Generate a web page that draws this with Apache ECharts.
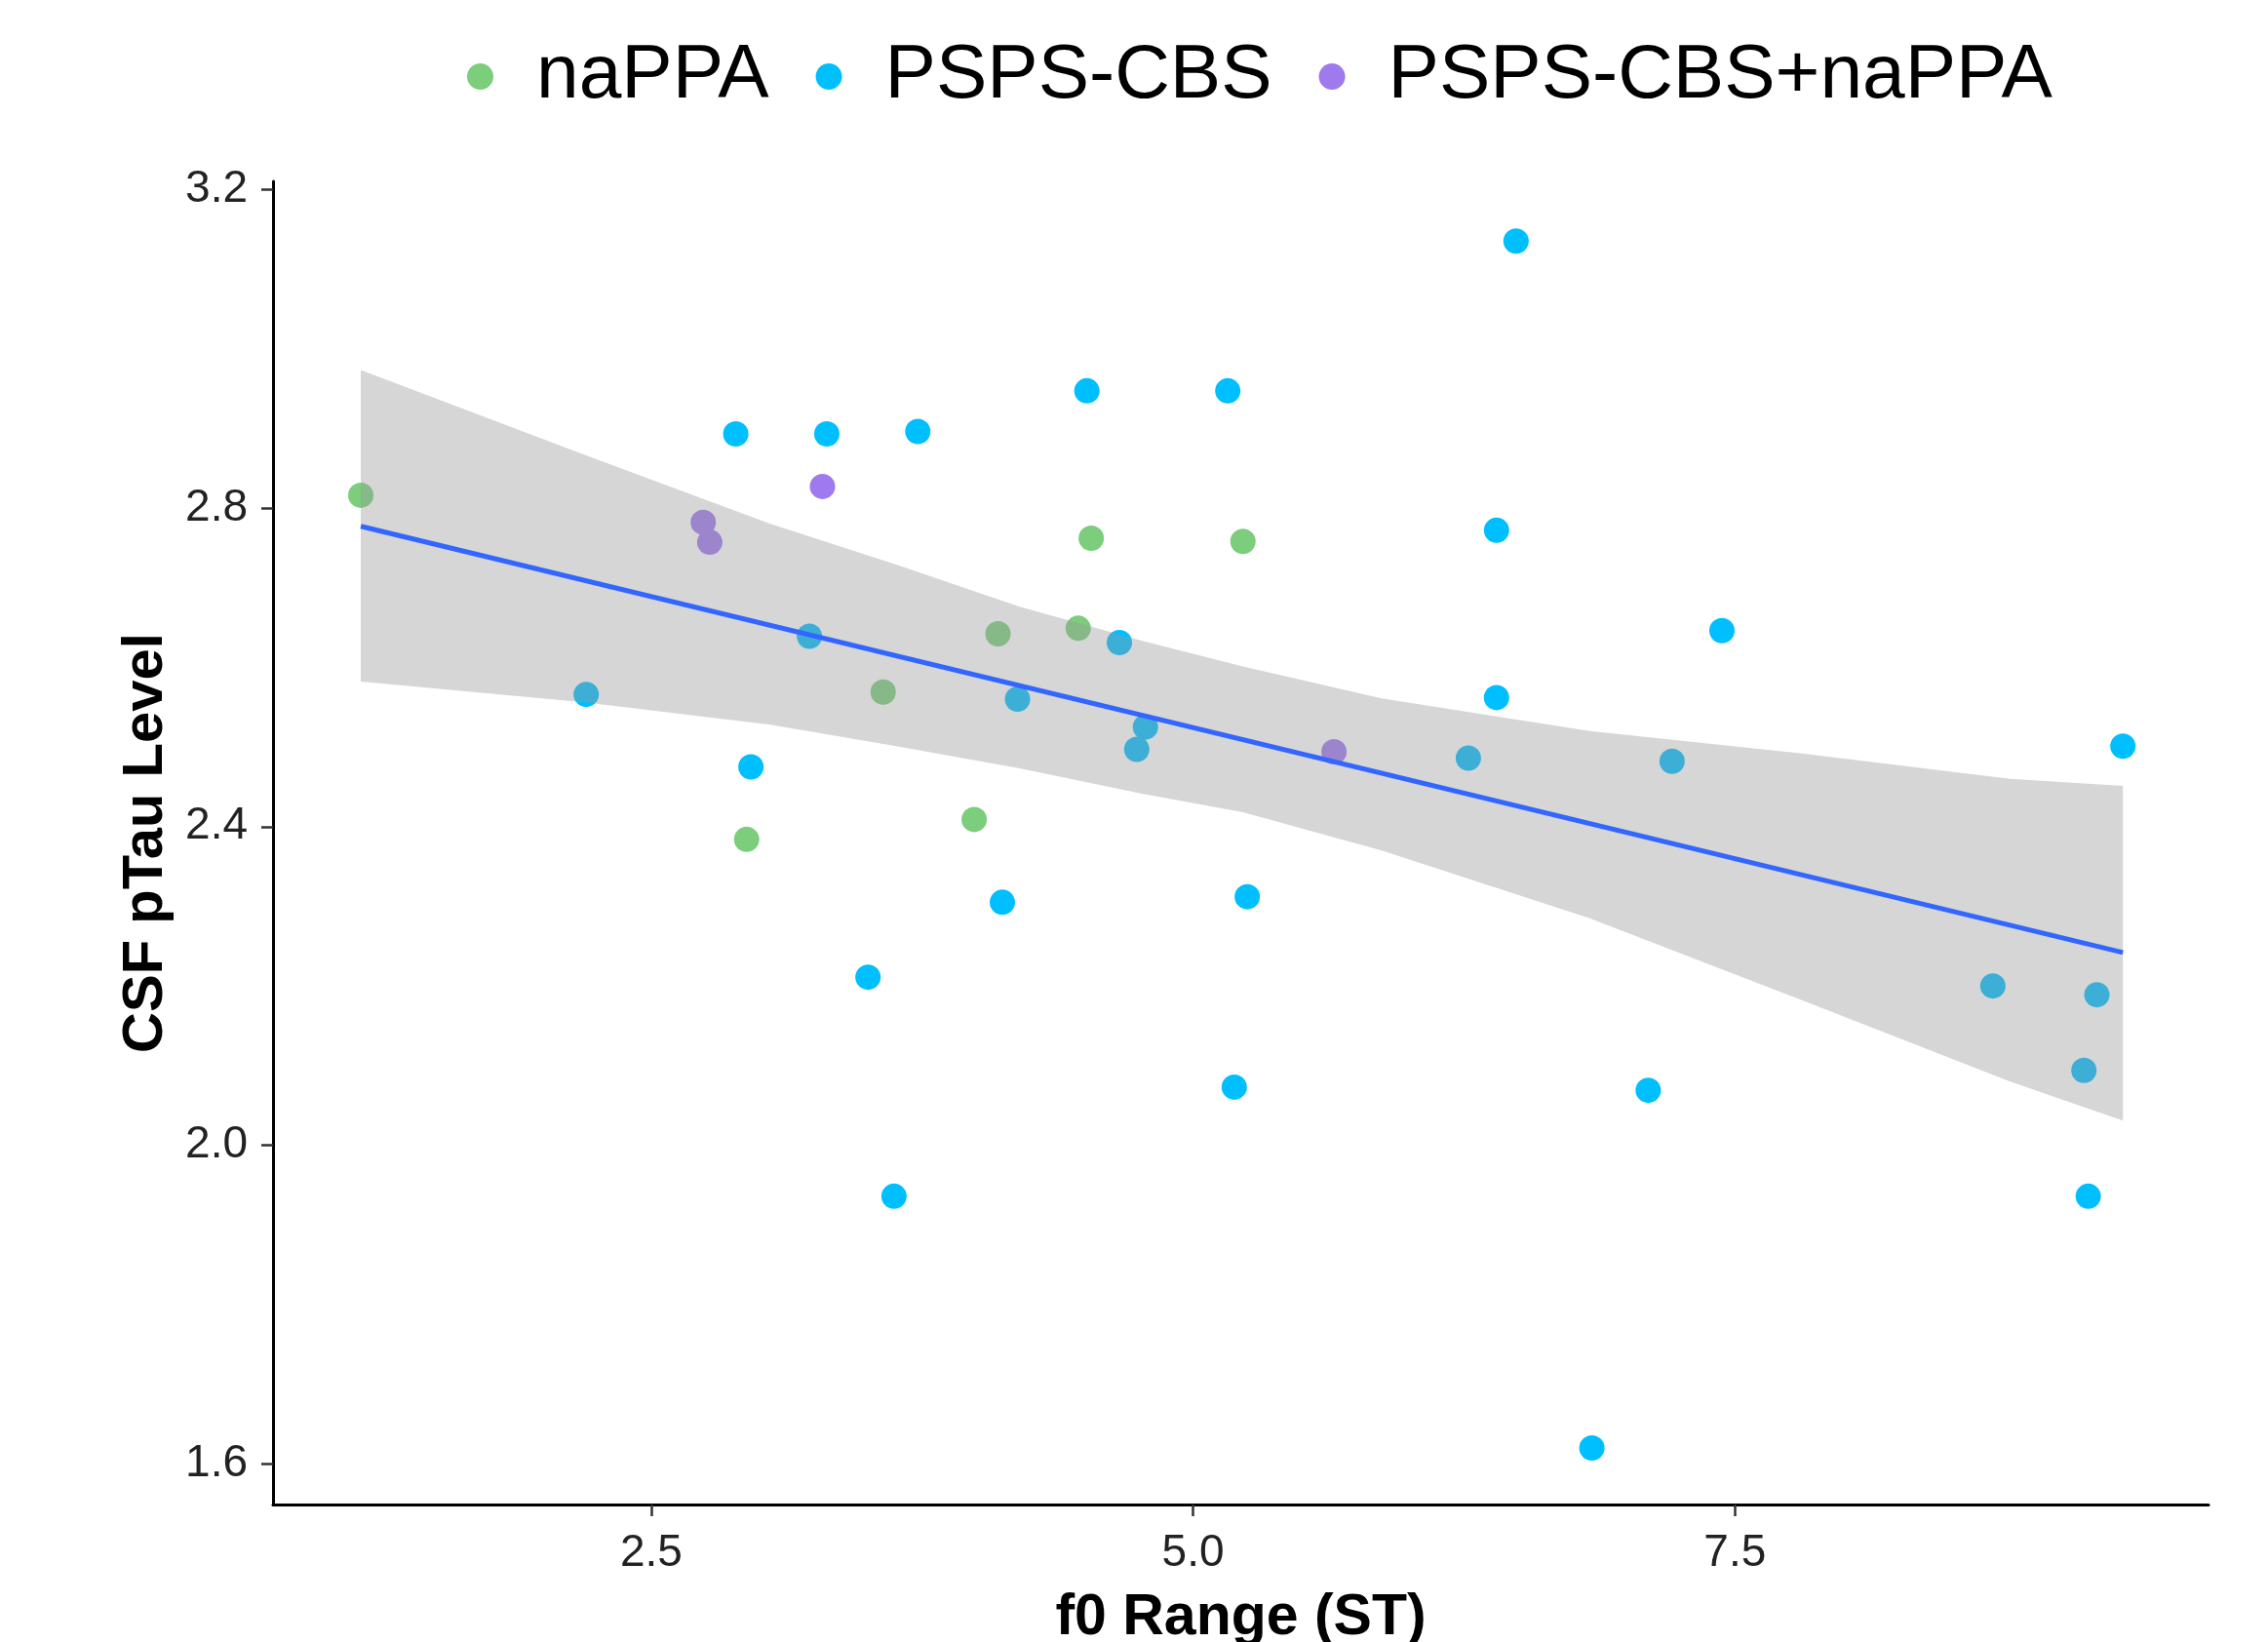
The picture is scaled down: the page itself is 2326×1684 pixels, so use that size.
<!DOCTYPE html>
<html>
<head>
<meta charset="utf-8">
<title>CSF pTau Level vs f0 Range</title>
<script src="https://cdn.jsdelivr.net/npm/echarts@6.0.0/dist/echarts.min.js"></script>
<style>
  html, body { margin: 0; padding: 0; background: #fff; }
  #chart { width: 2326px; height: 1684px; }
</style>
</head>
<body>
<div id="chart"></div>
<script>
// groups and colours
const groupNames = ['naPPA', 'PSPS-CBS', 'PSPS-CBS+naPPA']
const groupColors = ['#7CCD7C', '#00BFFF', '#9F79EE']

// naPPA points (f0 range, pTau)
const naPPAX = [1.16, 2.94, 3.57, 3.99, 4.10, 4.47, 4.53, 5.23]
const naPPAY = [2.816, 2.384, 2.569, 2.409, 2.642, 2.649, 2.762, 2.758]

// PSPS-CBS points
const pspsX = [2.20, 2.89, 2.96, 3.23, 3.31, 3.50, 3.62, 3.73, 4.12, 4.19,
  4.51, 4.66, 4.74, 4.78, 5.16, 5.19, 5.25, 6.27, 6.40, 6.40,
  6.49, 6.84, 7.10, 7.21, 7.44, 8.69, 9.11, 9.13, 9.17, 9.29]
const pspsY = [2.566, 2.893, 2.475, 2.639, 2.893, 2.211, 1.936, 2.896, 2.305, 2.560,
  2.947, 2.631, 2.497, 2.525, 2.947, 2.073, 2.312, 2.486, 2.772, 2.562,
  3.135, 1.620, 2.069, 2.482, 2.646, 2.200, 2.094, 1.936, 2.189, 2.501]

// PSPS-CBS+naPPA points
const bothX = [2.74, 2.77, 3.29, 5.65]
const bothY = [2.782, 2.757, 2.827, 2.494]

// linear fit (ends) and its confidence band
const fitX = [1.16, 9.29]
const fitY = [2.777, 2.242]
const bandX = [1.16, 2.19, 3.05, 3.63, 4.20, 4.77, 5.23, 5.87, 6.83, 7.80, 8.77, 9.29]
const bandUpper = [2.973, 2.867, 2.780, 2.729, 2.676, 2.633, 2.601, 2.561, 2.520, 2.492, 2.460, 2.451]
const bandLower = [2.582, 2.556, 2.528, 2.501, 2.473, 2.441, 2.418, 2.370, 2.285, 2.183, 2.080, 2.031]

// ticks
const xTicks = [2.5, 5.0, 7.5]
const yTicks = [1.6, 2.0, 2.4, 2.8, 3.2]

const fontFam = '"Liberation Sans", Arial, sans-serif'

function zip (xs, ys) {
  return xs.map((x, i) => [x, ys[i]])
}

let myChart = echarts.init(document.getElementById('chart'))

const groupData = [zip(naPPAX, naPPAY), zip(pspsX, pspsY), zip(bothX, bothY)]

const scatterSeries = groupNames.map((name, i) => ({
  name: name,
  type: 'scatter',
  symbol: 'circle',
  symbolSize: 26,
  z: 2,
  itemStyle: { color: groupColors[i], opacity: 1 },
  emphasis: { disabled: true },
  data: groupData[i]
}))

myChart.setOption({
  animation: false,
  backgroundColor: '#fff',
  legend: {
    data: groupNames.map((n) => ({ name: n, icon: 'circle' })),
    left: 474,
    top: 34,
    itemWidth: 27,
    itemHeight: 27,
    itemGap: 48,
    selectedMode: false,
    textStyle: {
      fontSize: 78.5,
      fontFamily: fontFam,
      color: '#000',
      // extra top padding drops the words a little below the dots, as in the original
      padding: [8, 0, 0, 39]
    }
  },
  grid: {
    left: 280,
    right: 61,
    top: 186,
    bottom: 141,
    containLabel: false,
    // keep the plot box fixed; the x title is allowed to run off the bottom edge
    outerBoundsMode: 'none'
  },
  xAxis: {
    type: 'value',
    min: 0.755,
    max: 9.685,
    name: 'f0 Range (ST)',
    nameLocation: 'middle',
    nameGap: 87,
    nameTextStyle: { fontSize: 59, fontWeight: 'bold', color: '#000', fontFamily: fontFam },
    splitLine: { show: false },
    axisLine: { onZero: false, lineStyle: { color: '#000', width: 3 } },
    axisTick: { customValues: xTicks, length: 12, lineStyle: { color: '#333', width: 2.5 } },
    axisLabel: {
      customValues: xTicks,
      formatter: (v) => v.toFixed(1),
      fontSize: 46,
      color: '#222',
      fontFamily: fontFam,
      margin: 27
    }
  },
  yAxis: {
    type: 'value',
    min: 1.549,
    max: 3.21,
    name: 'CSF pTau Level',
    nameLocation: 'middle',
    nameGap: 100,
    nameTextStyle: { fontSize: 58, fontWeight: 'bold', color: '#000', fontFamily: fontFam },
    splitLine: { show: false },
    axisLine: { show: true, onZero: false, lineStyle: { color: '#000', width: 3 } },
    axisTick: { show: true, customValues: yTicks, length: 12, lineStyle: { color: '#333', width: 2.5 } },
    axisLabel: {
      customValues: yTicks,
      formatter: (v) => v.toFixed(1),
      fontSize: 46,
      color: '#222',
      fontFamily: fontFam,
      margin: 26
    }
  },
  series: scatterSeries.concat([
    {
      // confidence band, drawn over the points like the original
      name: 'band',
      type: 'custom',
      z: 3,
      silent: true,
      data: bandX.map((x, i) => [x, bandUpper[i], bandLower[i]]),
      encode: { x: 0, y: [1, 2] },
      renderItem: (params, api) => {
        if (params.dataIndex !== 0) return null
        let pts = []
        for (let i = 0; i < bandX.length; i++) pts.push(api.coord([bandX[i], bandUpper[i]]))
        for (let i = bandX.length - 1; i >= 0; i--) pts.push(api.coord([bandX[i], bandLower[i]]))
        return {
          type: 'polygon',
          shape: { points: pts },
          style: { fill: 'rgba(153,153,153,0.4)', stroke: null }
        }
      }
    },
    {
      name: 'fit',
      type: 'line',
      z: 4,
      silent: true,
      showSymbol: false,
      lineStyle: { color: '#3366FF', width: 5 },
      data: zip(fitX, fitY)
    }
  ])
})
</script>
</body>
</html>
